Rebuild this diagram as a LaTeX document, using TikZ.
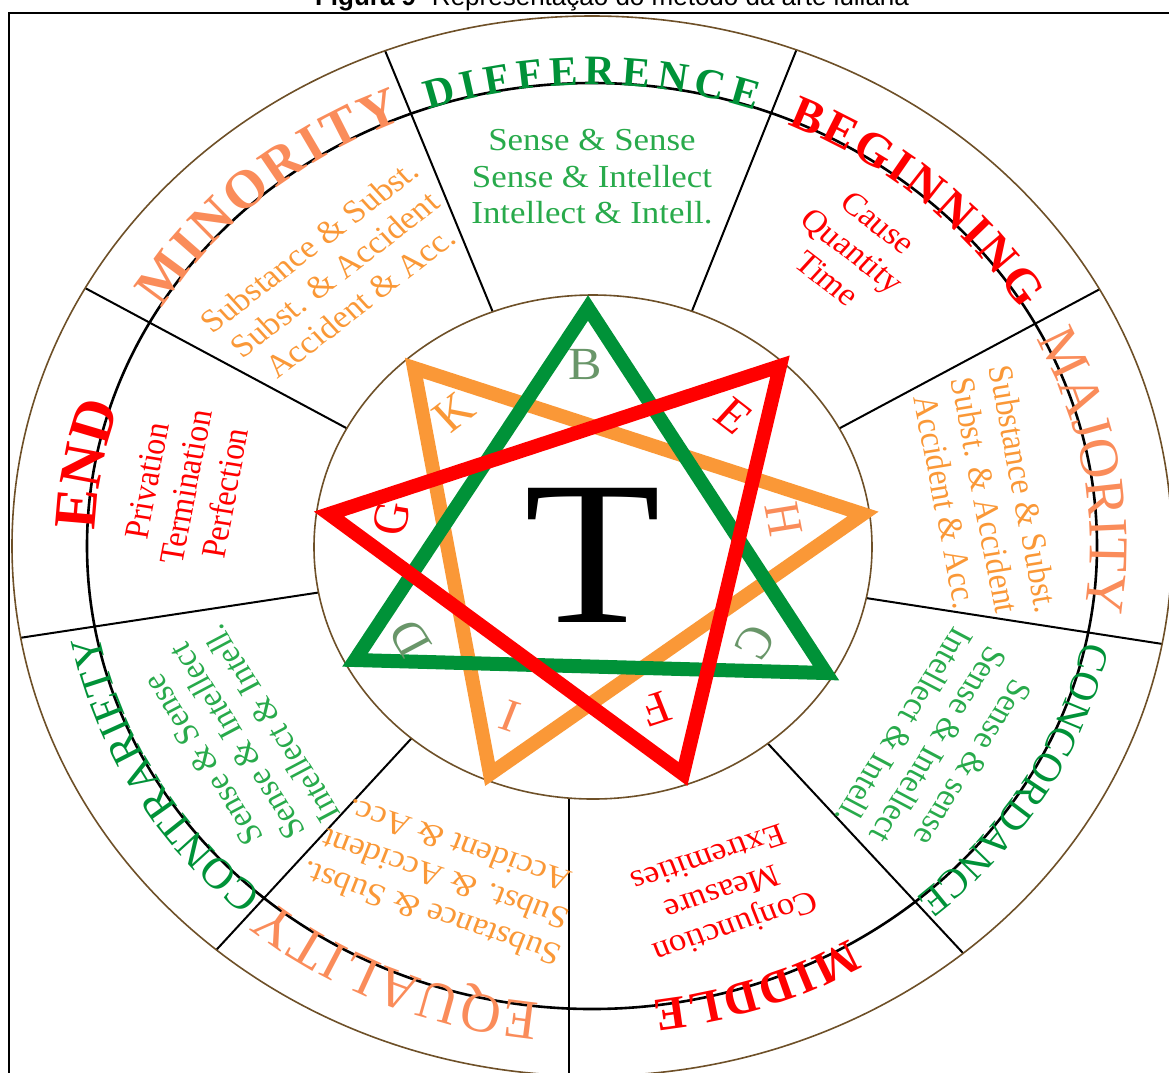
\documentclass[tikz,border=0pt]{standalone}
\usepackage{fontspec}
\setmainfont{Liberation Serif}
\newfontfamily\captionfont{Liberation Sans}
\usetikzlibrary{decorations.text}

\definecolor{lulgreen}{RGB}{0,146,56}
\definecolor{lulgreenlt}{RGB}{40,170,75}
\definecolor{lulgrey}{RGB}{105,150,105}
\definecolor{lulred}{RGB}{255,0,0}
\definecolor{lulorange}{RGB}{250,152,55}
\definecolor{lulsalmon}{RGB}{250,140,90}
\definecolor{ringbrown}{RGB}{110,80,40}

\tikzset{
  ring/.style={draw=ringbrown, line width=1.6pt},
  divider/.style={draw=black, line width=2pt},
  tri/.style={line width=14pt, line join=miter},
  boxtext/.style={align=center, inner sep=0pt, font=\fontsize{32}{36.5}\selectfont},
  starletter/.style={inner sep=0pt, font=\fontsize{46}{46}\selectfont},
  arclabel/.style={decorate, decoration={text along path, text align=fit to path, text color=#1}},
}

\begin{document}
\begin{tikzpicture}[x=1pt, y=1pt]
  \useasboundingbox (0,0) rectangle (1169,-1072);
  \coordinate (c) at (592,-546);

  % caption and frame
  \node[anchor=base, inner sep=0pt, font=\captionfont\fontsize{26}{26}\selectfont] (caption) at (612,-5)
    {\textbf{Figura 9}- Representação do método da arte luliana};
  \draw[line width=2.4pt] (9,-13) rectangle (1190,-1100);

  % nine compartments
  \begin{scope}
    \clip (c) ellipse[x radius=580, y radius=530];
    \draw[divider] (499,-327) -- (379,-36);
    \draw[divider] (686,-326) -- (802,-36);
    \draw[divider] (827,-435) -- (1115,-281);
    \draw[divider] (853,-596) -- (1182,-647);
    \draw[divider] (759,-734) -- (976,-967);
    \draw[divider] (569,-785) -- (569,-1090);
    \draw[divider] (421,-728) -- (207,-960);
    \draw[divider] (335,-590) -- (6,-640);
    \draw[divider] (363,-437) -- (72,-281);
  \end{scope}
  \draw[line width=2.6pt] (c) ellipse[x radius=505, y radius=463];
  \draw[ring] (c) ellipse[x radius=580, y radius=530];
  \draw[ring, fill=white] (593,-547) ellipse[x radius=279, y radius=252];

  % the three triangles
  \draw[tri, lulorange] (414,-368) -- (863,-514) -- (490,-774) -- cycle;
  \draw[tri, lulgreen] (588,-308) -- (355,-660) -- (826,-673) -- cycle;
  \draw[tri, lulred] (780,-366) -- (329,-514) -- (683,-774) -- cycle;

  % names of the compartments
  \path[arclabel=lulgreen, decoration={text={|\bfseries\fontsize{42}{42}\selectfont|DIFFERENCE}}]
    (c) ++(109:503 and 461) arc[start angle=109, end angle=71, x radius=503, y radius=461];
  \path[arclabel=lulred, decoration={text={|\bfseries\fontsize{48}{48}\selectfont|BEGINNING}}]
    (c) ++(67:500 and 458) arc[start angle=67, end angle=31, x radius=500, y radius=458];
  \path[arclabel=lulsalmon, decoration={text={|\fontsize{56}{56}\selectfont|MAJORITY}}]
    (c) ++(27:498 and 457) arc[start angle=27, end angle=-8, x radius=498, y radius=457];
  \path[arclabel=lulgreen, decoration={text={|\fontsize{41}{41}\selectfont|CONCORDANCE}}]
    (c) ++(-12:502 and 460) arc[start angle=-12, end angle=-49, x radius=502, y radius=460];
  \path[arclabel=lulred, decoration={text={|\bfseries\fontsize{47}{47}\selectfont|MIDDLE}}]
    (c) ++(-59:500 and 458) arc[start angle=-59, end angle=-83, x radius=500, y radius=458];
  \path[arclabel=lulsalmon, decoration={text={|\fontsize{56}{56}\selectfont|EQUALITY}}]
    (c) ++(-96:502 and 460) arc[start angle=-96, end angle=-130, x radius=502, y radius=460];
  \path[arclabel=lulgreen, decoration={text={|\fontsize{44}{44}\selectfont|CONTRARIETY}}]
    (c) ++(229:502 and 460) arc[start angle=229, end angle=191, x radius=502, y radius=460];
  \path[arclabel=lulred, decoration={text={|\bfseries\fontsize{60}{60}\selectfont|END}}]
    (c) ++(178:497 and 456) arc[start angle=178, end angle=164, x radius=497, y radius=456];
  \path[arclabel=lulsalmon, decoration={text={|\bfseries\fontsize{54}{54}\selectfont|MINORITY}}]
    (c) ++(149:502 and 460) arc[start angle=149, end angle=112, x radius=502, y radius=460];

  \begin{scope}[shift={(c)}, xscale=1.09, transform shape]
    % contents of the compartments
    \node[boxtext, text=lulgreenlt] (difftext) at (90:369)
      {Sense \& Sense\\Sense \& Intellect\\Intellect \& Intell.};
    \node[boxtext, text=lulred, rotate=-40] (begtext) at (51:380) {Cause\\Quantity\\Time};
    \node[boxtext, text=lulorange, rotate=-80] (majtext) at (8:364)
      {Substance \& Subst.\\Subst. \& Accident\\Accident \& Acc.};
    \node[boxtext, text=lulgreenlt, rotate=-120] (conctext) at (-32:375)
      {Sense \& sense\\Sense \& Intellect\\Intellect \& Intell.};
    \node[boxtext, text=lulred, rotate=-160] (midtext) at (-71:367) {Conjunction\\Measure\\Extremities};
    \node[boxtext, text=lulorange, rotate=160] (eqtext) at (-112:360)
      {Substance \& Subst.\\Subst. \& Accident\\Accident \& Acc.};
    \node[boxtext, text=lulgreenlt, rotate=120] (contrtext) at (-149:380)
      {Sense \& Sense\\Sense \& Intellect\\Intellect \& Intell.};
    \node[boxtext, text=lulred, rotate=80] (endtext) at (171:377) {Privation\\Termination\\Perfection};
    \node[boxtext, text=lulorange, rotate=40] (mintext) at (131:360)
      {Substance \& Subst.\\Subst. \& Accident\\Accident \& Acc.};

    % letters in the points of the star
    \node[starletter, text=lulgrey] (B) at (92:182) {B};
    \node[starletter, text=lulred, rotate=-40] (E) at (45:184) {E};
    \node[starletter, text=lulsalmon, rotate=-80] (H) at (8.7:178) {H};
    \node[starletter, text=lulgrey, rotate=-120] (C) at (-32.6:178) {C};
    \node[starletter, text=lulred, rotate=-160] (F) at (-70:173) {F};
    \node[starletter, text=lulsalmon, rotate=160] (I) at (-113.8:186) {I};
    \node[starletter, text=lulgrey, rotate=120] (D) at (-150.9:191) {D};
    \node[starletter, text=lulred, rotate=80] (G) at (171.6:186) {G};
    \node[starletter, text=lulorange, rotate=40] (K) at (133.4:184) {K};

    \node[inner sep=0pt, font=\fontsize{205}{205}\selectfont] (T) at (1,-9) {T};
  \end{scope}
\end{tikzpicture}
\end{document}
